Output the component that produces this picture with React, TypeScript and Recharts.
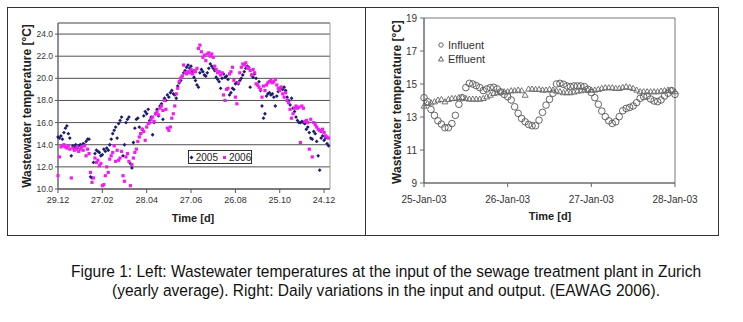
import React from 'react';
import { ScatterChart, Scatter, XAxis, YAxis, CartesianGrid, ReferenceArea, Legend } from 'recharts';

// ---------- Left chart: yearly wastewater temperature ----------
const YEAR_TICK_DAYS = [0, 60, 120, 180, 240, 300, 360];
const YEAR_TICK_LABELS = ['29.12', '27.02', '28.04', '27.06', '26.08', '25.10', '24.12'];
const YEAR_Y_TICKS = [10, 12, 14, 16, 18, 20, 22, 24];
const DAY_STEP = 2; // one reading every 2 days, starting 29.12
const SERIES_NAMES = ['2005', '2006'];

const TEMP_2005 = [
  14.7, 14.6, 14.8, 14.5, 15.1, 15.5, 15.7, 15.0, 14.6, 13.0,
  13.9, 13.8, 14.0, 13.7, 13.9, 14.0, 13.8, 14.1, 14.0, 14.3,
  14.5, 14.5, 11.1, 11.0, 12.4, 13.2, 13.5, 13.4, 13.3, 13.0,
  13.1, 13.6, 13.4, 13.7, 13.5, 14.0, 14.5, 15.0, 15.3, 15.6,
  14.6, 15.9, 16.2, 16.5, 13.0, 14.0, 16.0, 16.3, 16.5, 12.3,
  11.9, 14.2, 15.5, 16.3, 16.4, 15.6, 15.0, 15.4, 16.6, 17.0,
  16.8, 17.2, 16.2, 16.5, 14.9, 16.0, 16.8, 17.2, 16.6, 17.5,
  17.7, 16.3, 18.2, 18.0, 18.5, 18.3, 18.7, 18.9, 18.6, 18.5,
  18.2, 19.3, 19.6, 19.8, 20.2, 20.5, 20.7, 21.0, 21.2, 20.9,
  21.1, 20.6, 20.1, 19.8, 19.4, 19.2, 20.5, 20.8, 20.6, 20.3,
  20.2, 20.5, 20.9, 21.3, 21.1, 20.9, 20.7, 20.1, 19.9, 19.7,
  19.1, 20.0, 20.4, 20.1, 20.2, 19.9, 18.5, 18.7, 19.1, 19.0,
  19.5, 19.6, 19.5, 19.8, 20.0, 20.3, 20.6, 20.9, 21.1, 21.0,
  19.2, 20.3, 20.1, 20.4, 20.0, 19.4, 19.7, 18.9, 17.5, 16.4,
  16.8, 18.4, 18.6, 18.7, 18.5, 18.6, 18.3, 17.5, 18.4, 18.8,
  19.1, 19.2, 19.0, 19.2, 18.9, 18.3, 18.0, 17.6, 18.2, 17.3,
  17.0, 16.5, 16.2, 16.0, 16.0, 16.1, 16.0, 15.9, 15.4, 15.6,
  15.1, 14.6, 14.5, 15.2, 15.0, 14.3, 13.0, 11.7, 14.6, 14.8,
  14.4, 14.6, 14.1, 13.9,
];

const TEMP_2006 = [
  11.2, 12.9, 13.8, 13.9, 14.0, 13.8, 13.7, 13.9, 13.6, 11.0,
  13.7, 13.5, 13.6, 13.8, 13.4, 13.6, 13.8, 13.5, 13.9, 13.0,
  13.6, 13.2, 11.5, 10.6, 11.0, 12.8, 12.4, 12.6, 12.1, 12.3,
  10.3, 10.4, 11.2, 12.0, 11.5, 12.7, 13.0, 13.3, 13.9, 12.5,
  13.5, 12.6, 12.8, 13.4, 11.2, 10.7, 12.9, 13.2, 12.5, 10.3,
  12.2, 12.8, 13.3, 13.6, 14.3, 14.7, 15.0, 15.4, 15.2, 14.4,
  15.6, 15.9, 16.0, 16.3, 16.5, 16.1, 16.8, 17.0, 16.7, 17.3,
  17.5, 17.1, 18.0, 17.2, 15.5, 15.3, 15.6, 16.4, 16.8, 17.5,
  18.6, 19.1, 19.7, 20.0, 20.2, 21.2, 20.5, 20.4, 20.6, 20.5,
  20.8, 20.4, 20.7, 20.6, 20.9, 22.7, 23.0, 22.4, 21.9, 22.1,
  21.6, 22.2, 22.3, 22.0, 22.2, 21.9, 21.1, 20.8, 20.5, 20.6,
  20.3, 20.5, 18.5, 18.0, 19.0, 19.1, 20.4, 20.6, 21.0, 19.8,
  18.3, 17.7, 19.6, 20.5, 21.0, 21.3, 21.2, 21.4, 21.0, 20.9,
  20.7, 20.3, 20.8, 20.5, 19.5, 19.4, 19.2, 19.0, 18.3, 19.3,
  18.9, 19.4, 19.6, 19.7, 19.8, 19.6, 19.7, 19.9, 19.4, 19.1,
  18.9, 19.2, 18.6, 18.3, 18.7, 18.0, 17.8, 17.2, 16.4, 16.8,
  17.3, 17.5, 17.3, 17.4, 14.2, 17.5, 17.3, 16.1, 16.2, 16.0,
  13.6, 16.3, 12.9, 16.0, 15.8, 15.6, 15.4, 15.3, 15.2, 15.4,
  15.1, 14.8, 14.7, 14.6,
];

// ---------- Right chart: daily variation (hourly readings) ----------
const HOUR_TICKS = [0, 24, 48, 72];
const HOUR_TICK_LABELS = ['25-Jan-03', '26-Jan-03', '27-Jan-03', '28-Jan-03'];
const DAILY_Y_TICKS = [9, 11, 13, 15, 17, 19];
const HOUR_STEP = 1;
const DAILY_NAMES = ['Influent', 'Effluent'];

const INFLUENT = [
  14.17, 13.93, 13.46, 13.10, 12.77, 12.57, 12.35, 12.35, 12.60, 13.10,
  13.77, 14.17, 14.78, 15.04, 15.00, 14.90, 14.78, 14.60, 14.70, 14.78,
  14.80, 14.70, 14.52, 14.37, 14.23, 14.03, 13.62, 13.22, 12.91, 12.71,
  12.55, 12.47, 12.47, 12.81, 13.28, 13.72, 14.07, 14.44, 15.00, 15.04,
  14.98, 14.88, 14.84, 14.88, 14.88, 14.88, 14.84, 14.68, 14.48, 14.17,
  13.77, 13.36, 13.02, 12.77, 12.61, 12.71, 13.02, 13.38, 13.52, 13.58,
  13.67, 13.87, 14.13, 14.23, 14.27, 14.09, 13.97, 13.93, 14.03, 14.27,
  14.44, 14.60, 14.37,
];

const EFFLUENT = [
  13.67, 13.83, 13.87, 13.93, 14.03, 14.07, 13.93, 14.07, 14.13, 14.13,
  14.19, 14.19, 14.13, 14.09, 14.09, 14.09, 14.09, 14.13, 14.23, 14.33,
  14.44, 14.48, 14.54, 14.54, 14.54, 14.60, 14.60, 14.64, 14.60, 14.33,
  14.70, 14.70, 14.68, 14.68, 14.64, 14.64, 14.68, 14.64, 14.58, 14.54,
  14.48, 14.48, 14.48, 14.52, 14.58, 14.60, 14.64, 14.64, 14.64, 14.64,
  14.68, 14.74, 14.78, 14.78, 14.78, 14.74, 14.74, 14.80, 14.84, 14.80,
  14.74, 14.64, 14.54, 14.54, 14.54, 14.54, 14.54, 14.54, 14.58, 14.60,
  14.64, 14.64, 14.54,
];

const CAPTION_LINES = [
  'Figure 1: Left: Wastewater temperatures at the input of the sewage treatment plant in Zurich',
  '(yearly average). Right: Daily variations in the input and output. (EAWAG 2006).',
];
const Y_TITLE = 'Wastewater temperature [°C]';
const X_TITLE = 'Time [d]';

const NAVY = '#1c1c6e';
const MAGENTA = '#ee1fee';
const FONT = '"Liberation Sans", Arial, sans-serif';

const data2005 = TEMP_2005.map((y, i) => ({ x: i * DAY_STEP, y }));
const data2006 = TEMP_2006.map((y, i) => ({ x: i * DAY_STEP, y }));
const dataIn = INFLUENT.map((y, i) => ({ x: i * HOUR_STEP, y }));
const dataEff = EFFLUENT.map((y, i) => ({ x: i * HOUR_STEP, y }));

const Diamond = (p: any) => {
  const { cx, cy } = p;
  if (cx == null || cy == null) return null;
  const r = 1.9;
  return <polygon points={`${cx},${cy - r} ${cx + r},${cy} ${cx},${cy + r} ${cx - r},${cy}`} fill={NAVY} />;
};
const Square = (p: any) => {
  const { cx, cy } = p;
  if (cx == null || cy == null) return null;
  return <rect x={cx - 1.6} y={cy - 1.6} width={3.2} height={3.2} fill={MAGENTA} />;
};
const Ring = (p: any) => {
  const { cx, cy } = p;
  if (cx == null || cy == null) return null;
  return <circle cx={cx} cy={cy} r={3.3} fill="none" stroke="#555" strokeWidth={0.9} />;
};
const Tri = (p: any) => {
  const { cx, cy } = p;
  if (cx == null || cy == null) return null;
  return <polygon points={`${cx},${cy - 3} ${cx + 3},${cy + 2.2} ${cx - 3},${cy + 2.2}`} fill="none" stroke="#666" strokeWidth={0.9} />;
};

const byOrder = (names: string[]) => (a: any, b: any) => names.indexOf(a.value) - names.indexOf(b.value);

const YearLegend = (props: any) => {
  const payload = [...(props.payload || [])].sort(byOrder(SERIES_NAMES));
  return (
    <div style={{ border: '1px solid #333', background: '#fff', width: 62, height: 12, display: 'flex', alignItems: 'center', justifyContent: 'center', fontFamily: FONT, fontSize: 10, color: '#222', boxSizing: 'content-box' }}>
      {payload.map((e: any, i: number) => (
        <span key={i} style={{ display: 'inline-flex', alignItems: 'center', marginLeft: i ? 4 : 0 }}>
          <svg width={5} height={5} style={{ marginRight: 2 }}>
            {e.value === SERIES_NAMES[0]
              ? <polygon points="2.5,0.5 4.5,2.5 2.5,4.5 0.5,2.5" fill={NAVY} />
              : <rect x={1} y={1} width={3} height={3} fill={MAGENTA} />}
          </svg>
          {e.value}
        </span>
      ))}
    </div>
  );
};

const DailyLegend = (props: any) => {
  const payload = [...(props.payload || [])].sort(byOrder(DAILY_NAMES));
  return (
    <div style={{ fontFamily: FONT, fontSize: 11, color: '#333', lineHeight: '14px' }}>
      {payload.map((e: any, i: number) => (
        <div key={i} style={{ display: 'flex', alignItems: 'center' }}>
          <svg width={8} height={8} style={{ marginRight: 3 }}>
            {e.value === DAILY_NAMES[0]
              ? <circle cx={4} cy={4} r={2.2} fill="none" stroke="#555" strokeWidth={0.9} />
              : <polygon points="4,1.5 6.5,6 1.5,6" fill="none" stroke="#555" strokeWidth={0.9} />}
          </svg>
          {e.value}
        </div>
      ))}
    </div>
  );
};

export default function App() {
  const tickStyle = { fontSize: 9, fill: '#333', fontFamily: FONT };
  const capScale = 0.875;
  return (
    <div style={{ position: 'absolute', left: 0, top: 0, width: 743, height: 322, background: '#fff', overflow: 'hidden' }}>
      <svg width={743} height={322} style={{ position: 'absolute', left: 0, top: 0 }}>
        <rect x={7.5} y={7.5} width={358} height={228} fill="none" stroke="#333" strokeWidth={1} />
        <rect x={365.5} y={7.5} width={353} height={228} fill="none" stroke="#333" strokeWidth={1} />
        <text x={27} y={106} transform="rotate(-90, 27, 106)" textAnchor="middle" dominantBaseline="central" fontFamily={FONT} fontWeight="bold" fontSize={12} fill="#222">{Y_TITLE}</text>
        <text x={193} y={222} textAnchor="middle" fontFamily={FONT} fontWeight="bold" fontSize={11} fill="#222">{X_TITLE}</text>
        <text x={397} y={102} transform="rotate(-90, 397, 102)" textAnchor="middle" dominantBaseline="central" fontFamily={FONT} fontWeight="bold" fontSize={12} fill="#222">{Y_TITLE}</text>
        <text x={550} y={220} textAnchor="middle" fontFamily={FONT} fontWeight="bold" fontSize={11} fill="#222">{X_TITLE}</text>
        <g transform={`translate(386, 277) scale(${capScale}, 1)`}>
          <text x={0} y={0} textAnchor="middle" fontFamily={FONT} fontSize={17} fill="#111" textLength={630 / capScale} lengthAdjust="spacingAndGlyphs">{CAPTION_LINES[0]}</text>
        </g>
        <g transform={`translate(386, 296) scale(${capScale}, 1)`}>
          <text x={0} y={0} textAnchor="middle" fontFamily={FONT} fontSize={17} fill="#111" textLength={548 / capScale} lengthAdjust="spacingAndGlyphs">{CAPTION_LINES[1]}</text>
        </g>
      </svg>

      <div style={{ position: 'absolute', left: 0, top: 0 }}>
        <ScatterChart width={366} height={240} margin={{ top: 23, right: 36, left: 0, bottom: 21 }}>
          <CartesianGrid vertical={false} stroke="#505050" />
          <XAxis type="number" dataKey="x" domain={[0, 368]} ticks={YEAR_TICK_DAYS} interval={0}
            tickFormatter={(v: number) => YEAR_TICK_LABELS[YEAR_TICK_DAYS.indexOf(v)]}
            height={30} tickSize={4} tickMargin={4} tick={tickStyle}
            axisLine={{ stroke: '#555' }} tickLine={{ stroke: '#555' }} />
          <YAxis type="number" dataKey="y" domain={[10, 25]} ticks={YEAR_Y_TICKS} interval={0}
            tickFormatter={(v: number) => v.toFixed(1)} width={58} tickSize={3} tickMargin={2}
            tick={{ ...tickStyle, fontSize: 8.5 }} axisLine={{ stroke: '#555' }} tickLine={{ stroke: '#555' }} />
          <ReferenceArea x1={0} x2={368} y1={10} y2={25} fill="none" stroke="#9a9a9a" ifOverflow="visible" />
          <Scatter name={SERIES_NAMES[0]} data={data2005} shape={Diamond} isAnimationActive={false} />
          <Scatter name={SERIES_NAMES[1]} data={data2006} shape={Square} isAnimationActive={false} />
          <Legend layout="horizontal" verticalAlign="middle" align="center" content={YearLegend}
            wrapperStyle={{ left: 188, top: 150, width: 64, height: 14, right: 'auto', bottom: 'auto' }} />
        </ScatterChart>
      </div>

      <div style={{ position: 'absolute', left: 366, top: 0 }}>
        <ScatterChart width={352} height={240} margin={{ top: 18, right: 43, left: 0, bottom: 27 }}>
          <XAxis type="number" dataKey="x" domain={[0, 72]} ticks={HOUR_TICKS} interval={0}
            tickFormatter={(v: number) => HOUR_TICK_LABELS[HOUR_TICKS.indexOf(v)]}
            height={30} tickSize={4} tickMargin={9} tick={{ ...tickStyle, fontSize: 10 }}
            axisLine={{ stroke: '#666' }} tickLine={{ stroke: '#666' }} />
          <YAxis type="number" dataKey="y" domain={[9, 19]} ticks={DAILY_Y_TICKS} interval={0}
            width={58} tickSize={4} tickMargin={3} tick={{ ...tickStyle, fontSize: 10 }}
            axisLine={{ stroke: '#666' }} tickLine={{ stroke: '#666' }} />
          <ReferenceArea x1={0} x2={72} y1={9} y2={19} fill="none" stroke="#777" ifOverflow="visible" />
          <Scatter name={DAILY_NAMES[0]} data={dataIn} shape={Ring} isAnimationActive={false} />
          <Scatter name={DAILY_NAMES[1]} data={dataEff} shape={Tri} isAnimationActive={false} />
          <Legend layout="vertical" verticalAlign="middle" align="center" content={DailyLegend}
            wrapperStyle={{ left: 71, top: 38, width: 80, right: 'auto', bottom: 'auto' }} />
        </ScatterChart>
      </div>
    </div>
  );
}
